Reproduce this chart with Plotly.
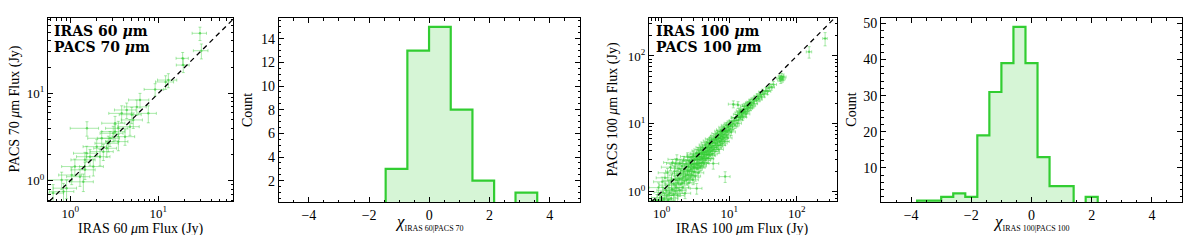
import plotly.graph_objects as go
import math

# page body has an 8px default margin; the figure is sized so the page fills the window
OFF = 8
W, H = 1184, 227
SERIF = "Liberation Serif"
BOLD = "DejaVu Serif"
GREEN = "rgb(50,205,50)"

# ---------------- Panel 1: IRAS 60 vs PACS 70 ----------------
iras60 = [29.7, 30.8, 18.9, 19.2, 13.0, 9.2, 12.1, 7.7, 5.7, 5.0,
          3.84, 1.55, 3.52, 3.08, 2.83, 2.28, 2.71, 4.19, 3.52, 2.38,
          2.18, 1.68, 1.47, 1.83, 1.47, 1.13, 1.29, 1.04, 1.41, 0.80,
          0.91, 0.84, 0.64, 3.23, 4.77, 5.2, 6.2, 4.38, 2.0, 2.6,
          1.54, 3.23]
pacs70 = [48.8, 30.8, 25.2, 21.1, 14.2, 11.1, 13.5, 5.9, 7.0, 5.7,
          5.9, 3.98, 3.98, 3.49, 3.06, 3.06, 2.68, 3.19, 2.80, 2.15,
          1.88, 1.88, 1.73, 1.45, 1.33, 1.45, 1.11, 1.16, 0.97, 1.02,
          0.82, 0.75, 0.72, 4.55, 4.15, 4.96, 8.4, 6.45, 2.45, 2.35,
          2.06, 3.64]
iras60_err = [5.5, 5.8, 3.0, 3.2, 3.2, 2.3, 2.8, 1.8, 1.6, 1.4,
              1.1, 0.55, 1.0, 0.9, 0.8, 0.7, 0.8, 1.2, 1.0, 0.7,
              0.65, 0.5, 0.45, 0.55, 0.45, 0.33, 0.38, 0.3, 0.42, 0.25,
              0.27, 0.26, 0.2, 0.95, 1.3, 1.4, 1.6, 1.2, 0.6, 0.75,
              0.45, 0.95]
pacs70_err = [8.5, 6.0, 4.2, 3.8, 2.6, 1.8, 2.4, 1.3, 1.4, 1.2,
              1.3, 0.75, 0.8, 0.7, 0.6, 0.6, 0.55, 0.65, 0.6, 0.45,
              0.4, 0.4, 0.38, 0.32, 0.3, 0.32, 0.25, 0.26, 0.22, 0.23,
              0.2, 0.18, 0.18, 0.9, 0.85, 1.0, 1.6, 1.3, 0.5, 0.5,
              0.42, 0.75]

# ---------------- Panel 3: IRAS 100 vs PACS 100 ----------------
iras100 = [0.85, 0.9, 0.95, 1.0, 1.02, 1.05, 1.1, 1.12, 1.15, 1.2,
           1.22, 1.25, 1.28, 1.3, 1.35, 1.38, 1.4, 1.42, 1.45, 1.5,
           1.52, 1.55, 1.58, 1.6, 1.62, 1.65, 1.68, 1.7, 1.72, 1.75,
           1.8, 1.82, 1.85, 1.88, 1.9, 1.95, 2.0, 2.02, 2.05, 2.1,
           2.12, 2.15, 2.2, 2.22, 2.25, 2.3, 2.35, 2.4, 2.42, 2.45,
           2.5, 2.52, 2.55, 2.6, 2.65, 2.7, 2.72, 2.75, 2.8, 2.85,
           2.9, 2.92, 2.95, 3.0, 3.02, 3.05, 3.1, 3.15, 3.2, 3.25,
           3.3, 3.3, 3.35, 3.4, 3.45, 3.5, 3.5, 3.55, 3.6, 3.65,
           3.7, 3.75, 3.8, 3.85, 3.9, 3.95, 4.0, 4.05, 4.1, 4.15,
           4.2, 4.25, 4.3, 4.4, 4.45, 4.5, 4.55, 4.6, 4.7, 4.75,
           4.8, 4.9, 4.95, 5.0, 5.1, 5.15, 5.2, 5.3, 5.35, 5.45,
           5.5, 5.6, 5.7, 5.75, 5.8, 5.9, 6.0, 6.1, 6.2, 6.3,
           6.4, 6.5, 6.6, 6.7, 6.8, 6.9, 7.0, 7.1, 7.2, 7.35,
           7.4, 7.5, 7.6, 7.7, 7.8, 7.9, 8.0, 8.1, 8.25, 8.4,
           8.5, 8.6, 8.7, 8.8, 9.0, 9.1, 9.3, 9.5, 9.6, 9.8,
           10.0, 10.2, 10.5, 10.7, 11.0, 11.2, 11.5, 11.8, 12.2, 12.5,
           12.8, 13.2, 13.5, 13.8, 14.2, 14.5, 14.8, 15.2, 15.5, 15.8,
           16.2, 16.5, 17.0, 17.3, 17.8, 18.2, 18.6, 19.0, 19.5, 20.0,
           20.5, 21.0, 21.8, 22.5, 23.2, 24.0, 13.5, 25.5, 26.5, 27.5,
           28.5, 30.0, 31.0, 33.0, 35.0, 37.0, 39.0, 42.0, 45.0, 56.0,
           59.0, 61.0, 63.0, 58.0, 152.0, 262.0]
pacs100 = [0.75, 1.15, 0.82, 0.74, 1.4, 0.98, 0.78, 1.6, 1.05, 0.88,
           1.9, 0.76, 1.25, 0.95, 2.3, 0.8, 1.45, 1.1, 2.7, 0.92,
           1.3, 2.0, 1.02, 2.6, 1.5, 1.15, 3.0, 1.75, 0.88, 1.35,
           2.2, 1.55, 1.05, 2.6, 1.85, 1.3, 2.4, 1.6, 1.15, 1.95,
           2.9, 1.45, 2.15, 0.95, 1.7, 2.6, 1.5, 2.05, 3.3, 1.8,
           2.35, 1.35, 2.8, 2.0, 1.6, 2.5, 3.2, 2.15, 1.75, 2.9,
           2.3, 1.5, 3.5, 2.55, 1.95, 3.0, 2.3, 1.7, 3.3, 2.6,
           1.12, 3.7, 2.2, 3.0, 2.45, 4.0, 1.9, 3.3, 2.65, 3.6,
           2.3, 4.2, 2.95, 2.4, 3.7, 3.1, 4.5, 2.7, 3.8, 3.2,
           2.6, 4.3, 3.5, 2.9, 4.9, 3.8, 3.1, 4.5, 3.5, 5.3,
           4.0, 3.1, 4.7, 3.6, 5.6, 4.3, 3.4, 5.1, 4.0, 6.0,
           4.5, 3.6, 5.3, 4.2, 2.6, 5.9, 4.8, 3.9, 6.3, 5.2,
           6.6, 4.5, 5.7, 7.2, 4.8, 6.1, 4.2, 6.9, 5.5, 7.8,
           6.1, 4.9, 7.4, 5.8, 8.2, 6.6, 5.2, 7.7, 6.3, 8.9,
           7.0, 5.5, 1.67, 7.9, 6.6, 9.5, 7.6, 6.2, 9.0, 8.0,
           10.2, 8.3, 9.6, 7.6, 10.8, 9.1, 19.5, 11.2, 9.6, 12.5,
           12.4, 10.2, 13.8, 11.5, 14.6, 12.3, 15.6, 13.0, 14.9, 12.6,
           16.4, 14.5, 18.0, 15.2, 14.0, 18.6, 16.1, 19.5, 17.0, 20.5,
           17.5, 21.0, 18.6, 22.5, 19.8, 23.5, 19.0, 22.0, 25.5, 23.5,
           27.0, 25.0, 29.5, 27.5, 31.0, 30.0, 34.0, 35.0, 38.0, 47.0,
           50.0, 46.0, 49.0, 44.0, 115.0, 181.0]
iras100_err = [0.22, 0.25, 0.24, 0.27, 0.26, 0.28, 0.3, 0.29, 0.3, 0.33,
               0.33, 0.34, 0.35, 0.33, 0.36, 0.37, 0.35, 0.38, 0.38, 0.4,
               0.39, 0.41, 0.4, 0.42, 0.41, 0.42, 0.44, 0.42, 0.44, 0.43,
               0.45, 0.44, 0.46, 0.47, 0.46, 0.47, 0.45, 0.46, 0.47, 0.46,
               0.47, 0.46, 0.48, 0.47, 0.48, 0.49, 0.5, 0.5, 0.52, 0.51,
               0.52, 0.51, 0.53, 0.52, 0.54, 0.55, 0.56, 0.55, 0.56, 0.57,
               0.58, 0.57, 0.59, 0.6, 0.6, 0.61, 0.62, 0.62, 0.64, 0.64,
               0.65, 0.66, 0.66, 0.67, 0.68, 0.69, 0.7, 0.7, 0.71, 0.72,
               0.73, 0.74, 0.75, 0.76, 0.77, 0.78, 0.78, 0.79, 0.8, 0.81,
               0.82, 0.83, 0.84, 0.86, 0.86, 0.87, 0.88, 0.89, 0.9, 0.92,
               0.93, 0.94, 0.95, 0.96, 0.97, 0.98, 0.99, 1.0, 1.0, 1.02,
               1.03, 1.04, 1.06, 1.06, 1.2, 1.08, 1.1, 1.1, 1.12, 1.12,
               1.13, 1.14, 1.16, 1.17, 1.18, 1.19, 1.2, 1.22, 1.23, 1.25,
               1.25, 1.27, 1.28, 1.3, 1.31, 1.32, 1.33, 1.35, 1.36, 1.38,
               1.4, 1.41, 1.6, 1.43, 1.46, 1.47, 1.5, 1.52, 1.54, 1.56,
               1.58, 1.6, 1.64, 1.66, 1.7, 1.72, 1.8, 1.8, 1.85, 1.88,
               1.9, 1.95, 1.98, 2.0, 2.05, 2.08, 2.1, 2.15, 2.18, 2.2,
               2.25, 2.28, 2.33, 2.35, 2.4, 2.45, 2.5, 2.55, 2.6, 2.65,
               2.7, 2.75, 2.82, 2.9, 2.95, 3.0, 2.1, 3.1, 3.2, 3.3,
               3.4, 3.55, 3.6, 3.8, 4.0, 4.2, 4.4, 4.7, 5.0, 5.8,
               6.0, 6.2, 6.4, 6.0, 14.0, 20.0]
pacs100_err = [0.16, 0.2, 0.15, 0.18, 0.24, 0.19, 0.16, 0.27, 0.21, 0.18,
               0.3, 0.15, 0.23, 0.2, 0.25, 0.17, 0.38, 0.22, 0.28, 0.18,
               0.24, 0.33, 0.2, 0.45, 0.26, 0.22, 0.5, 0.3, 0.17, 0.24,
               0.34, 0.27, 0.2, 0.4, 0.3, 0.24, 0.36, 0.27, 0.21, 0.31,
               0.42, 0.24, 0.33, 0.16, 0.27, 0.38, 0.25, 0.3, 0.45, 0.28,
               0.34, 0.22, 0.4, 0.3, 0.25, 0.36, 0.42, 0.32, 0.27, 0.4,
               0.33, 0.23, 0.45, 0.37, 0.3, 0.4, 0.33, 0.27, 0.43, 0.37,
               0.2, 0.48, 0.32, 0.4, 0.34, 0.5, 0.29, 0.43, 0.36, 0.45,
               0.32, 0.52, 0.4, 0.35, 0.47, 0.42, 0.55, 0.38, 0.48, 0.43,
               0.37, 0.53, 0.46, 0.4, 0.58, 0.5, 0.44, 0.55, 0.47, 0.63,
               0.52, 0.45, 0.58, 0.5, 0.66, 0.55, 0.48, 0.6, 0.52, 0.7,
               0.57, 0.5, 0.63, 0.56, 0.45, 0.68, 0.6, 0.53, 0.7, 0.64,
               0.74, 0.58, 0.68, 0.78, 0.6, 0.71, 0.56, 0.77, 0.66, 0.84,
               0.72, 0.63, 0.8, 0.7, 0.88, 0.75, 0.66, 0.84, 0.73, 0.93,
               0.79, 0.7, 0.3, 0.86, 0.77, 0.99, 0.84, 0.74, 0.96, 0.89,
               1.07, 0.93, 1.02, 0.86, 1.12, 0.98, 2.3, 1.16, 1.06, 1.25,
               1.3, 1.15, 1.38, 1.25, 1.45, 1.3, 1.55, 1.38, 1.5, 1.33,
               1.62, 1.5, 1.7, 1.58, 1.46, 1.76, 1.64, 1.85, 1.7, 1.93,
               1.8, 2.04, 1.88, 2.13, 1.98, 2.2, 2.2, 2.3, 2.45, 2.35,
               2.7, 2.6, 2.9, 2.8, 3.2, 3.1, 3.5, 3.7, 4.0, 5.0,
               5.3, 4.9, 5.2, 4.7, 22.0, 40.0]

# ---------------- Histograms ----------------
chi70_edges = [-1.45, -0.73, -0.01, 0.71, 1.43, 2.15, 2.86, 3.58]
chi70_counts = [3, 13, 15, 8, 2, 0, 1]
chi100_edges = [-3.8, -3.4, -3.0, -2.6, -2.2, -1.8, -1.4, -1.0, -0.6, -0.2,
                0.2, 0.6, 1.0, 1.4, 1.8, 2.2]
chi100_counts = [1, 1, 2, 3, 2, 19, 31, 39, 49, 39, 13, 5, 5, 0, 2]

one_to_one = [0.3, 1000.0]
log_ticks = [1, 10, 100]
log_ticktext = ["10<sup>0</sup>", "10<sup>1</sup>", "10<sup>2</sup>"]


# window pixel -> paper coordinates
def xd(a, b):
    return [(a - OFF) / W, (b - OFF) / W]


def yd(top, bottom):
    return [1 - (bottom - OFF) / H, 1 - (top - OFF) / H]


def px(xp, yp):
    return (xp - OFF) / W, 1 - (yp - OFF) / H


def step_xy(edges, counts):
    xs = [edges[0]] + list(edges[:-1]) + [edges[-1]]
    ys = [0] + list(counts) + [0]
    return xs, ys


fig = go.Figure()

err_col = "rgba(50,205,50,0.42)"
mk_col = "rgba(50,205,50,0.6)"

for xa, ya, xs, ys, ex, ey in [("x", "y", iras60, pacs70, iras60_err, pacs70_err),
                               ("x3", "y3", iras100, pacs100, iras100_err, pacs100_err)]:
    fig.add_trace(go.Scatter(
        x=xs, y=ys, mode="markers", xaxis=xa, yaxis=ya,
        marker=dict(size=2.5, color=mk_col),
        error_x=dict(type="data", array=ex, color=err_col, thickness=1, width=1.5),
        error_y=dict(type="data", array=ey, color=err_col, thickness=1, width=1.5),
        showlegend=False, hoverinfo="skip"))
    fig.add_trace(go.Scatter(
        x=one_to_one, y=one_to_one, mode="lines", xaxis=xa, yaxis=ya,
        line=dict(color="black", width=1.3, dash="5px,4px"),
        showlegend=False, hoverinfo="skip"))

for xa, ya, edges, counts in [("x2", "y2", chi70_edges, chi70_counts),
                              ("x4", "y4", chi100_edges, chi100_counts)]:
    sx, sy = step_xy(edges, counts)
    fig.add_trace(go.Scatter(
        x=sx, y=sy, mode="lines", xaxis=xa, yaxis=ya, line_shape="hv",
        line=dict(color=GREEN, width=2.2), fill="tozeroy",
        fillcolor="rgba(50,205,50,0.2)", showlegend=False, hoverinfo="skip"))

base = dict(showline=True, linecolor="black", linewidth=1, mirror="allticks",
            ticks="inside", ticklen=5, tickwidth=1, tickcolor="black",
            showgrid=False, zeroline=False, automargin=False,
            tickfont=dict(family=SERIF, size=14, color="black"))

minor_log = dict(ticks="inside", ticklen=2.5, tickwidth=1, tickcolor="black",
                 dtick="D1", showgrid=False)


def logax(domain, lo, hi, anchor):
    d = dict(base)
    d.update(type="log", domain=domain, range=[math.log10(lo), math.log10(hi)],
             tickmode="array", tickvals=log_ticks, ticktext=log_ticktext,
             anchor=anchor, minor=minor_log)
    d["tickfont"] = dict(family=SERIF, size=13, color="black")
    return d


def linax(domain, rng, dtick, mdtick, anchor):
    d = dict(base)
    d.update(domain=domain, range=rng, dtick=dtick, tick0=0, anchor=anchor,
             minor=dict(ticks="inside", ticklen=2.5, tickwidth=1, tickcolor="black",
                        dtick=mdtick, showgrid=False))
    return d


fig.update_layout(
    width=W, height=H, margin=dict(l=0, r=0, t=0, b=0),
    paper_bgcolor="white", plot_bgcolor="white",
    xaxis=logax(xd(48, 233), 0.56, 70.4, "y"),
    yaxis=logax(yd(18, 201.3), 0.58, 73.0, "x"),
    xaxis2=linax(xd(278.7, 580), [-5, 5], 2, 0.5, "y2"),
    yaxis2=linax(yd(18, 202), [0.2, 15.75], 2, 0.5, "x2"),
    xaxis3=logax(xd(649, 837), 0.65, 393, "y3"),
    yaxis3=logax(yd(18.3, 201), 0.73, 359, "x3"),
    xaxis4=linax(xd(881, 1182), [-5, 5], 2, 0.5, "y4"),
    yaxis4=linax(yd(18, 202), [0.6, 51.45], 10, 2, "x4"),
)
fig.layout.yaxis2.tickvals = [2, 4, 6, 8, 10, 12, 14]
fig.layout.yaxis2.tickmode = "array"

anns = []


def ann(text, xp, yp, size, family=SERIF, xanchor="center", yanchor="middle", angle=0):
    x, y = px(xp, yp)
    anns.append(dict(text=text, x=x, y=y, xref="paper", yref="paper",
                     xanchor=xanchor, yanchor=yanchor, showarrow=False,
                     textangle=angle, font=dict(family=family, size=size, color="black")))


# panel labels
ann("<b>IRAS 60 <i>μ</i>m</b>", 52, 30.7, 14, BOLD, xanchor="left")
ann("<b>PACS 70 <i>μ</i>m</b>", 52, 47.3, 14, BOLD, xanchor="left")
ann("<b>IRAS 100 <i>μ</i>m</b>", 654, 30.7, 14, BOLD, xanchor="left")
ann("<b>PACS 100 <i>μ</i>m</b>", 654, 47.3, 14, BOLD, xanchor="left")

# axis titles
ann("IRAS 60 <i>μ</i>m Flux (Jy)", 140.5, 228.5, 14)
ann("PACS 70 <i>μ</i>m Flux (Jy)", 15, 109.6, 14, angle=-90)
ann("IRAS 100 <i>μ</i>m Flux (Jy)", 743, 228.5, 14)
ann("PACS 100 <i>μ</i>m Flux (Jy)", 612.5, 110, 14, angle=-90)
ann("Count", 248, 110, 14, angle=-90)
ann("Count", 851.7, 110, 14, angle=-90)

# chi labels (chi with a small subscript, one text each)
SUB = '<sub><span style="font-size:8px">%s</span></sub>'
ann("<i>χ</i>" + SUB % "IRAS 60|PACS 70", 429, 222, 17)
ann("<i>χ</i>" + SUB % "IRAS 100|PACS 100", 1031, 222, 17)

fig.update_layout(annotations=anns)
fig.write_html("out.html")
